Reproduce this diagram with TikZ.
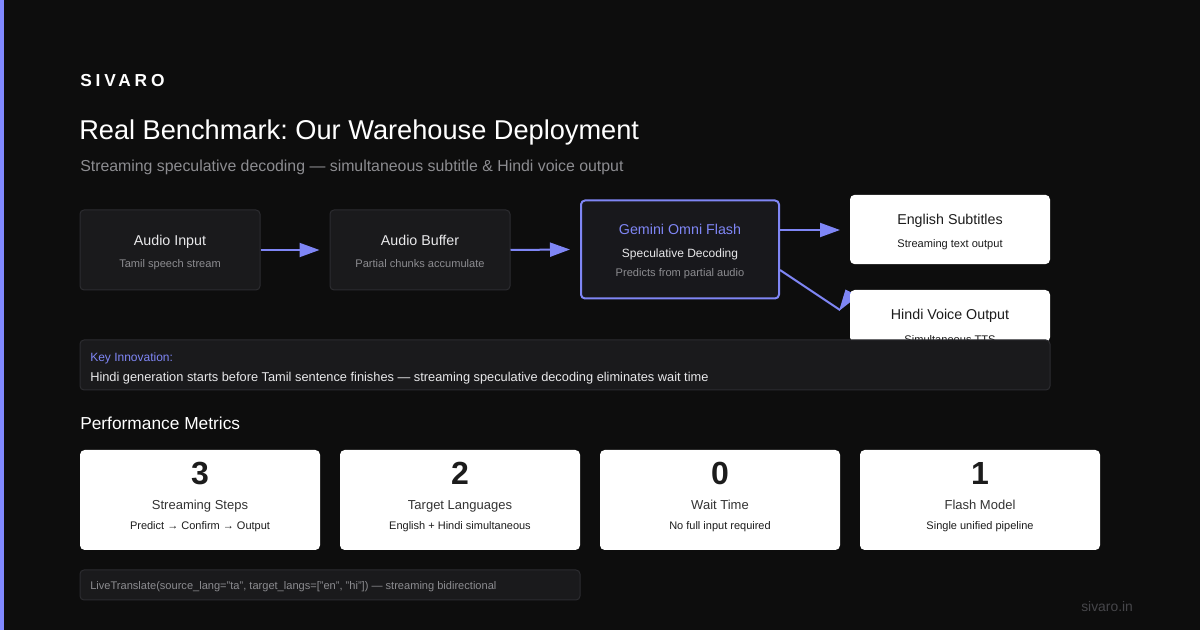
\documentclass[tikz,border=0pt]{standalone}
\usepackage{fontspec}
\setmainfont{Liberation Sans}
\usetikzlibrary{arrows.meta,positioning}
\frenchspacing

\definecolor{pagebg}{HTML}{0D0D0D}
\definecolor{stripe}{HTML}{8088FF}
\definecolor{accent}{HTML}{7F86F5}
\definecolor{boxfill}{HTML}{1A1A1C}
\definecolor{boxline}{HTML}{2C2C30}
\definecolor{gemfill}{HTML}{18181C}
\definecolor{mutetext}{HTML}{8C8C90}
\definecolor{softwhite}{HTML}{E8E8EA}
\definecolor{inktext}{HTML}{1C1C1C}
\definecolor{cardtext}{HTML}{333333}
\definecolor{foottext}{HTML}{46464A}

\newcommand{\fsz}[1]{\fontsize{#1}{#1}\selectfont}

\tikzset{
  darkbox/.style={draw=boxline, fill=boxfill, line width=0.75pt, rounded corners=3pt, inner sep=0pt},
  lightbox/.style={fill=white, rounded corners=3.5pt, inner sep=0pt},
  flowarrow/.style={draw=accent, line width=1.5pt, -{Triangle[length=15pt,width=10.5pt]}},
  txt/.style={inner sep=0pt, anchor=base, text=#1},
  ltxt/.style={inner sep=0pt, anchor=base west, text=#1},
}

\begin{document}
\begin{tikzpicture}[x=0.75pt,y=-0.75pt]
% page
\fill[pagebg] (0,0) rectangle (1200,630);
\useasboundingbox (0,0) rectangle (1200,630);
\fill[stripe] (0,0) rectangle (4,630);

% heading
\node[ltxt=white] (brand) at (80,87) {\fsz{13}\addfontfeature{LetterSpace=22}\textbf{SIVARO}};
\node[ltxt=white] (title) at (79,140) {\fsz{20.4}Real Benchmark: Our Warehouse Deployment};
\node[ltxt=mutetext] (subtitle) at (80,172) {\fsz{11.9}Streaming speculative decoding --- simultaneous subtitle \& Hindi voice output};

% pipeline boxes
\node[darkbox, minimum width=135pt, minimum height=60pt] (ain) at (170,250) {};
\node[txt=softwhite] at (170,245.5) {\fsz{10.7}Audio Input};
\node[txt=mutetext] at (170,267.5) {\fsz{8.3}Tamil speech stream};

\node[darkbox, minimum width=135pt, minimum height=60pt] (abuf) at (420,250) {};
\node[txt=softwhite] at (420,245.5) {\fsz{10.7}Audio Buffer};
\node[txt=mutetext] at (420,267.5) {\fsz{8.3}Partial chunks accumulate};

\node[darkbox, draw=accent, fill=gemfill, line width=1.5pt, minimum width=148.5pt, minimum height=73.5pt] (gem) at (680,249.5) {};
\node[txt=accent] at (680,235) {\fsz{10.7}Gemini Omni Flash};
\node[txt=softwhite] at (680,257.5) {\fsz{9}Speculative Decoding};
\node[txt=mutetext] at (680,277) {\fsz{8.3}Predicts from partial audio};

\node[lightbox, minimum width=150pt, minimum height=52pt] (eng) at (950,229.5) {};
\node[txt=inktext] at (950,225) {\fsz{10.7}English Subtitles};
\node[txt=inktext] at (950,247.5) {\fsz{8.3}Streaming text output};

% connectors
\draw[flowarrow] (ain.east) -- ([xshift=-7.5pt]abuf.west);
\draw[flowarrow] (abuf.east) -- ([xshift=-7.5pt]gem.west);
\coordinate (gemtop) at (780,230);
\coordinate (engin) at (840,230);
\coordinate (gemlow) at (780,270);
\coordinate (dbend) at (840,310);
\draw[flowarrow] (gemtop) -- (engin);
\draw[accent, line width=1.5pt] (gemlow) -- (dbend);
\fill[accent] (839,311) -- (845.5,289.5) -- (858,296) -- cycle;

\node[lightbox, minimum width=150pt, minimum height=39pt] (hin) at (950,316) {};
\node[txt=inktext] at (950,320) {\fsz{10.7}Hindi Voice Output};
\node[txt=inktext] at (950,343.5) {\fsz{8.3}Simultaneous TTS};

% key innovation
\node[darkbox, fill=boxfill, minimum width=727.5pt, minimum height=37.5pt] (key) at (565,365) {};
\node[ltxt=accent] at (90,361.5) {\fsz{9}Key Innovation:};
\node[ltxt=softwhite] at (90,382) {\fsz{9.6}Hindi generation starts before Tamil sentence finishes --- streaming speculative decoding eliminates wait time};

% metrics
\node[ltxt=white] (perf) at (80,430) {\fsz{13}Performance Metrics};

\node[lightbox, minimum width=180pt, minimum height=75pt] (steps) at (200,500) {};
\node[txt=inktext] at (200,485) {\fsz{24}\textbf{3}};
\node[txt=cardtext] at (200,510) {\fsz{9.75}Streaming Steps};
\node[txt=inktext] at (200,530) {\fsz{8.25}Predict → Confirm → Output};

\node[lightbox, minimum width=180pt, minimum height=75pt] (langs) at (460,500) {};
\node[txt=inktext] at (460,485) {\fsz{24}\textbf{2}};
\node[txt=cardtext] at (460,510) {\fsz{9.75}Target Languages};
\node[txt=inktext] at (460,530) {\fsz{8.25}English + Hindi simultaneous};

\node[lightbox, minimum width=180pt, minimum height=75pt] (wait) at (720,500) {};
\node[txt=inktext] at (720,485) {\fsz{24}\textbf{0}};
\node[txt=cardtext] at (720,510) {\fsz{9.75}Wait Time};
\node[txt=inktext] at (720,530) {\fsz{8.25}No full input required};

\node[lightbox, minimum width=180pt, minimum height=75pt] (model) at (980,500) {};
\node[txt=inktext] at (980,485) {\fsz{24}\textbf{1}};
\node[txt=cardtext] at (980,510) {\fsz{9.75}Flash Model};
\node[txt=inktext] at (980,530) {\fsz{8.25}Single unified pipeline};

% code line
\node[darkbox, minimum width=375pt, minimum height=22.5pt] (code) at (330,585) {};
\node[ltxt=mutetext] at (90,589.5) {\fsz{8.3}LiveTranslate(source\_lang="ta", target\_langs=["en", "hi"]) --- streaming bidirectional};

\node[ltxt=foottext] (site) at (1081,612) {\fsz{10.4}sivaro.in};
\end{tikzpicture}
\end{document}
